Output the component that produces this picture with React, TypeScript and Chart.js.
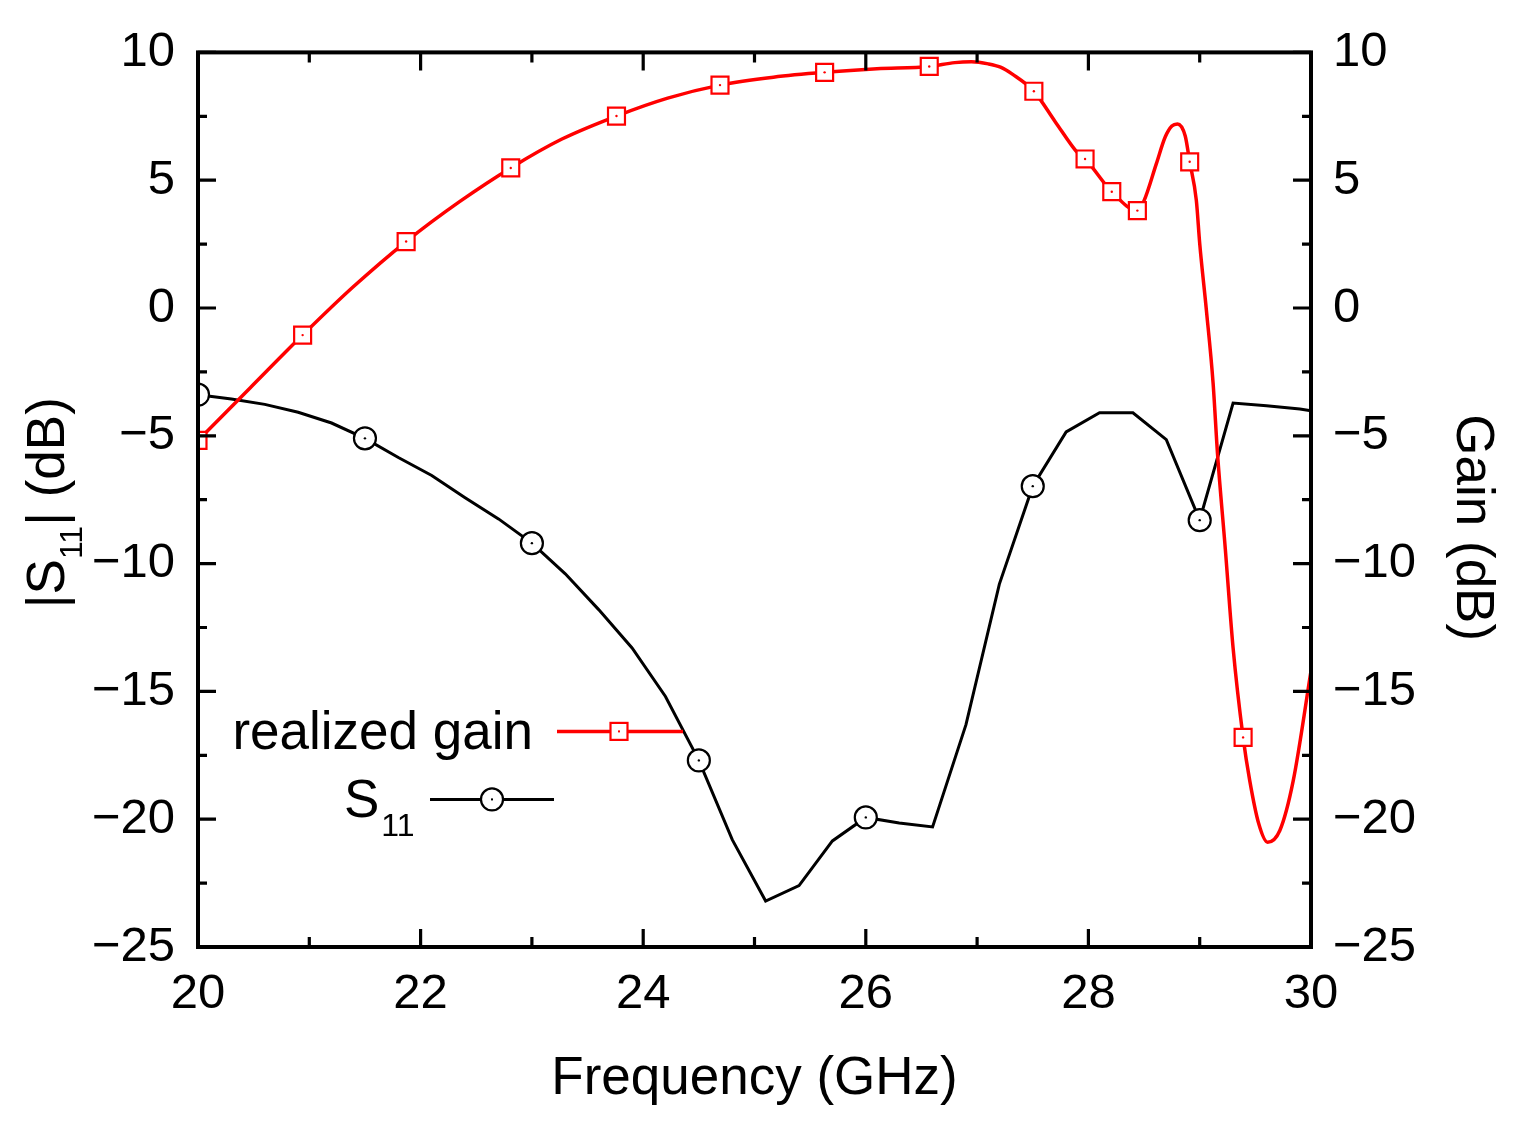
import React, { useEffect, useRef } from "react";
import Chart from "chart.js/auto";
import type { Chart as ChartJS, Plugin } from "chart.js";

// |S11| – sampled every 0.3 GHz
const S11_FREQ = [
  20.0, 20.3, 20.6, 20.9, 21.2, 21.5, 21.8, 22.1, 22.4, 22.7, 23.0, 23.3, 23.6, 23.9, 24.2, 24.5, 24.8,
  25.1, 25.4, 25.7, 26.0, 26.3, 26.6, 26.9, 27.2, 27.5, 27.8, 28.1, 28.4, 28.7, 29.0, 29.3, 29.6, 29.9, 30.0,
];
const S11_DB = [
  -3.39, -3.56, -3.77, -4.08, -4.5, -5.1, -5.85, -6.55, -7.42, -8.25, -9.2, -10.4, -11.8, -13.3, -15.2, -17.7,
  -20.8, -23.2, -22.6, -20.85, -19.93, -20.15, -20.3, -16.3, -10.8, -6.97, -4.85, -4.1, -4.1, -5.15, -8.3,
  -3.72, -3.82, -3.95, -4.02,
];
const S11_MARK_F = [20.0, 21.5, 23.0, 24.5, 26.0, 27.5, 29.0];
const S11_MARK_DB = [-3.39, -5.1, -9.2, -17.7, -19.93, -6.97, -8.3];

// realized gain
const GAIN_FREQ = [
  20.0, 20.47, 20.94, 21.39, 21.87, 22.35, 22.81, 23.27, 23.76, 24.22, 24.69, 25.17, 25.63, 26.1, 26.57,
  26.8, 26.95, 27.1, 27.21, 27.32, 27.51, 27.7, 27.91, 27.97, 28.21, 28.44, 28.5, 28.61, 28.69, 28.75, 28.8,
  28.87, 28.91, 28.97, 29.0, 29.06, 29.12, 29.16, 29.23, 29.3, 29.39, 29.45, 29.53, 29.61, 29.72, 29.84, 30.0,
];
const GAIN_DB = [
  -5.18, -3.12, -1.06, 0.81, 2.6, 4.16, 5.48, 6.61, 7.51, 8.21, 8.72, 9.03, 9.22, 9.36, 9.45, 9.6, 9.63, 9.55,
  9.42, 9.14, 8.48, 7.3, 6.03, 5.83, 4.55, 3.81, 4.2, 5.64, 6.69, 7.12, 7.2, 6.73, 5.72, 4.2, 2.53, -0.08, -2.92,
  -5.7, -9.42, -13.3, -16.8, -18.5, -20.17, -20.9, -20.44, -18.5, -14.2,
];
const GAIN_MARK_F = [20.0, 20.94, 21.87, 22.81, 23.76, 24.69, 25.63, 26.57, 27.51, 27.97, 28.21, 28.44, 28.91, 29.39];
const GAIN_MARK_DB = [-5.18, -1.06, 2.6, 5.48, 7.51, 8.72, 9.22, 9.45, 8.48, 5.83, 4.55, 3.81, 5.72, -16.8];

const X_MIN = 20;
const X_MAX = 30;
const X_STEP = 2;
const Y_MIN = -25;
const Y_MAX = 10;
const Y_STEP = 5;

const X_TITLE = "Frequency (GHz)";
const Y_TITLE = ["|S", "11", "| (dB)"];
const Y2_TITLE = "Gain (dB)";
const LEGEND_GAIN = "realized gain";
const LEGEND_S11 = ["S", "11"];

const RED = "#ff0000";
const BLACK = "#000000";
const FONT = "'Liberation Sans', Arial, Helvetica, sans-serif";

const pts = (xs: number[], ys: number[]) => xs.map((x, i) => ({ x, y: ys[i] }));
const minus = (v: number | string) => String(v).replace("-", "\u2212");

export default function App() {
  const canvasRef = useRef<HTMLCanvasElement | null>(null);
  const chartRef = useRef<ChartJS | null>(null);

  useEffect(() => {
    document.body.style.margin = "0";
    const ctx = canvasRef.current?.getContext("2d");
    if (!ctx) return;
    if (chartRef.current) {
      chartRef.current.destroy();
      chartRef.current = null;
    }

    // frame, inward ticks, custom y titles and the in-plot legend
    const decor: Plugin<"line"> = {
      id: "decor",
      afterDraw(c) {
        const { ctx, chartArea } = c;
        const { left, right, top, bottom } = chartArea;
        const xs: any = c.scales.x;
        const ys: any = c.scales.y;
        ctx.save();
        ctx.strokeStyle = BLACK;
        ctx.lineCap = "butt";

        // ticks
        ctx.lineWidth = 3.2;
        for (let v = Y_MIN; v <= Y_MAX + 1e-9; v += Y_STEP / 2) {
          const major = Math.abs(v % Y_STEP) < 1e-9;
          const len = major ? 18 : 9;
          const py = ys.getPixelForValue(v);
          ctx.beginPath();
          ctx.moveTo(left, py);
          ctx.lineTo(left + len, py);
          ctx.moveTo(right, py);
          ctx.lineTo(right - len, py);
          ctx.stroke();
        }
        for (let v = X_MIN; v <= X_MAX + 1e-9; v += X_STEP / 2) {
          const major = Math.abs((v - X_MIN) % X_STEP) < 1e-9;
          const len = major ? 18 : 10;
          const px = xs.getPixelForValue(v);
          ctx.beginPath();
          ctx.moveTo(px, bottom);
          ctx.lineTo(px, bottom - len);
          ctx.moveTo(px, top);
          ctx.lineTo(px, top + len);
          ctx.stroke();
        }

        // frame
        ctx.lineWidth = 4;
        ctx.strokeRect(left, top, right - left, bottom - top);

        // left title with subscript
        ctx.fillStyle = BLACK;
        ctx.textBaseline = "alphabetic";
        const big = `53px ${FONT}`;
        const small = `32px ${FONT}`;
        ctx.font = big;
        const w0 = ctx.measureText(Y_TITLE[0]).width;
        const w2 = ctx.measureText(Y_TITLE[2]).width;
        ctx.font = small;
        const w1 = ctx.measureText(Y_TITLE[1]).width;
        const total = w0 + w1 + w2;
        ctx.save();
        ctx.translate(left - 134, (top + bottom) / 2 + 3);
        ctx.rotate(-Math.PI / 2);
        ctx.textAlign = "left";
        ctx.font = big;
        ctx.fillText(Y_TITLE[0], -total / 2, 0);
        ctx.font = small;
        ctx.fillText(Y_TITLE[1], -total / 2 + w0, 18);
        ctx.font = big;
        ctx.fillText(Y_TITLE[2], -total / 2 + w0 + w1, 0);
        ctx.restore();

        // right title
        ctx.save();
        ctx.translate(right + 146, (top + bottom) / 2 + 28);
        ctx.rotate(Math.PI / 2);
        ctx.textAlign = "center";
        ctx.font = big;
        ctx.fillText(Y2_TITLE, 0, 0);
        ctx.restore();

        // legend
        ctx.font = big;
        ctx.textAlign = "right";
        ctx.fillText(LEGEND_GAIN, left + 335, top + 697);
        ctx.textAlign = "left";
        ctx.fillText(LEGEND_S11[0], left + 146, top + 765);
        const ws = ctx.measureText(LEGEND_S11[0]).width;
        ctx.font = small;
        ctx.fillText(LEGEND_S11[1], left + 148 + ws, top + 784);

        // gain sample
        ctx.strokeStyle = RED;
        ctx.lineWidth = 3.5;
        ctx.beginPath();
        ctx.moveTo(left + 359, top + 679);
        ctx.lineTo(left + 485, top + 679);
        ctx.stroke();
        ctx.fillStyle = "#fff";
        ctx.lineWidth = 2.2;
        ctx.fillRect(left + 421 - 8.5, top + 679 - 8.5, 17, 17);
        ctx.strokeRect(left + 421 - 8.5, top + 679 - 8.5, 17, 17);
        ctx.fillStyle = RED;
        ctx.fillRect(left + 420, top + 678, 2, 2);

        // S11 sample
        ctx.strokeStyle = BLACK;
        ctx.lineWidth = 3;
        ctx.beginPath();
        ctx.moveTo(left + 232, top + 747);
        ctx.lineTo(left + 356, top + 747);
        ctx.stroke();
        ctx.fillStyle = "#fff";
        ctx.lineWidth = 2.2;
        ctx.beginPath();
        ctx.arc(left + 294, top + 747, 11, 0, Math.PI * 2);
        ctx.fill();
        ctx.stroke();
        ctx.fillStyle = BLACK;
        ctx.fillRect(left + 293, top + 746, 2, 2);

        ctx.restore();
      },
    };

    const tickFont = { family: FONT, size: 49 };
    const yCommon = {
      type: "linear" as const,
      min: Y_MIN,
      max: Y_MAX,
      grid: { display: false, drawTicks: false },
      border: { display: false },
      ticks: { stepSize: Y_STEP, color: BLACK, font: tickFont, callback: (v: any) => minus(v) },
    };

    const chart = new Chart(ctx, {
      type: "line",
      data: {
        datasets: [
          {
            label: "gain dots",
            data: pts(GAIN_MARK_F, GAIN_MARK_DB),
            yAxisID: "y2",
            showLine: false,
            pointStyle: "circle",
            pointRadius: 1.2,
            pointBorderWidth: 0,
            pointBackgroundColor: RED,
            clip: 0,
          },
          {
            label: "gain markers",
            data: pts(GAIN_MARK_F, GAIN_MARK_DB),
            yAxisID: "y2",
            showLine: false,
            pointStyle: "rect",
            pointRadius: 12,
            pointBorderWidth: 2.2,
            pointBorderColor: RED,
            pointBackgroundColor: "#fff",
            clip: 0,
          },
          {
            label: "realized gain",
            data: pts(GAIN_FREQ, GAIN_DB),
            yAxisID: "y2",
            borderColor: RED,
            borderWidth: 3.5,
            pointRadius: 0,
            cubicInterpolationMode: "monotone",
            clip: 0,
          },
          {
            label: "S11 dots",
            data: pts(S11_MARK_F, S11_MARK_DB),
            yAxisID: "y",
            showLine: false,
            pointStyle: "circle",
            pointRadius: 1.2,
            pointBorderWidth: 0,
            pointBackgroundColor: BLACK,
            clip: 0,
          },
          {
            label: "S11 markers",
            data: pts(S11_MARK_F, S11_MARK_DB),
            yAxisID: "y",
            showLine: false,
            pointStyle: "circle",
            pointRadius: 11,
            pointBorderWidth: 2.2,
            pointBorderColor: BLACK,
            pointBackgroundColor: "#fff",
            clip: 0,
          },
          {
            label: "S11",
            data: pts(S11_FREQ, S11_DB),
            yAxisID: "y",
            borderColor: BLACK,
            borderWidth: 3,
            pointRadius: 0,
            tension: 0,
            clip: 0,
          },
        ],
      },
      options: {
        animation: false,
        responsive: true,
        maintainAspectRatio: false,
        layout: { padding: { top: 48, left: 0, right: 0, bottom: 0 } },
        scales: {
          x: {
            type: "linear",
            min: X_MIN,
            max: X_MAX,
            grid: { display: false, drawTicks: false },
            border: { display: false },
            ticks: { stepSize: X_STEP, autoSkip: false, color: BLACK, font: tickFont, padding: 18 },
            title: {
              display: true,
              text: X_TITLE,
              color: BLACK,
              font: { family: FONT, size: 53 },
              padding: { top: 0, bottom: 30 },
            },
            afterFit: (s: any) => {
              s.height = 194;
            },
          },
          y: {
            ...yCommon,
            position: "left",
            ticks: { ...yCommon.ticks, padding: 23 },
            afterFit: (s: any) => {
              s.width = 198;
            },
          },
          y2: {
            ...yCommon,
            position: "right",
            ticks: { ...yCommon.ticks, padding: 22 },
            afterFit: (s: any) => {
              s.width = 222;
            },
          },
        },
        plugins: {
          legend: { display: false },
          tooltip: { enabled: false },
        },
      },
      plugins: [decor],
    });

    chartRef.current = chart;
    return () => {
      chart.destroy();
      chartRef.current = null;
    };
  }, []);

  return (
    <div style={{ position: "relative", width: 1533, height: 1141, background: "#fff" }}>
      <canvas ref={canvasRef} />
    </div>
  );
}
